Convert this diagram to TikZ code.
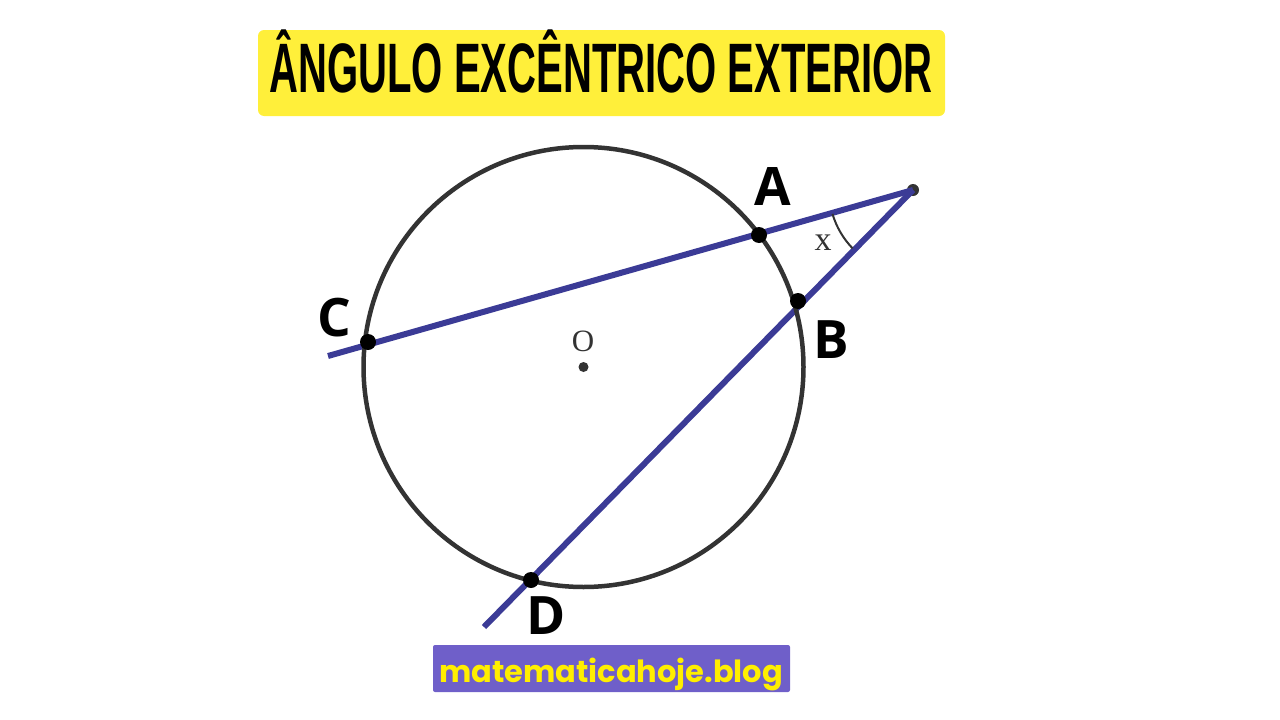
\documentclass[tikz,border=0pt]{standalone}
\usepackage{fontspec}
\setmainfont{Liberation Sans}
\newfontfamily\labelfont{Open Sans}
\newfontfamily\blogfont{Poppins}
\newfontfamily\markfont{Liberation Serif}
\definecolor{titleyellow}{HTML}{FFEF3A}
\definecolor{lineblue}{HTML}{3B3B96}
\definecolor{blogpurple}{HTML}{6F5FC9}
\definecolor{blogyellow}{HTML}{FFEE00}
\definecolor{circlegray}{HTML}{333333}
\tikzset{
  blueline/.style={draw=lineblue, line width=6pt},
  dot/.style={circle, fill=black, inner sep=0pt, minimum size=16pt},
  letter/.style={anchor=base, font=\labelfont\bfseries\fontsize{53}{53}\selectfont}
}
\begin{document}
\begin{tikzpicture}[x=1pt,y=-1pt]
\useasboundingbox (0,0) rectangle (1280,720);
\fill[titleyellow, rounded corners=6pt] (258,30) rectangle (945,116);
\node[anchor=base, inner sep=0pt] (title) at (601,92)
  {\scalebox{0.572}[1]{\bfseries\fontsize{70}{70}\selectfont ÂNGULO EXCÊNTRICO EXTERIOR}};
\coordinate (O) at (583.5,367);
\coordinate (Cend) at (328,356);
\coordinate (Dend) at (484,627);
\node[circle, fill=circlegray, inner sep=0pt, minimum size=12pt] (P) at (913,190) {};
\draw[blueline] (Cend)--(P.center);
\draw[blueline] (Dend)--(P.center);
\draw[draw=circlegray, line width=4.5pt] (O) circle[radius=220];
\draw[draw=circlegray, line width=2pt] (P.center) ++(163.5:84) arc[start angle=163.5, end angle=136, radius=84];
\node[dot] (A) at (759,235) {};
\node[dot] (B) at (798,301) {};
\node[dot] (C) at (368,342) {};
\node[dot] (D) at (531,580) {};
\node[circle, fill=circlegray, inner sep=0pt, minimum size=10pt] (Odot) at (O) {};
\node[text=circlegray, font=\markfont\fontsize{31}{31}\selectfont] (Olabel) at (583,341) {O};
\node[text=circlegray, font=\markfont\fontsize{34}{34}\selectfont] (xlabel) at (823,243) {x};
\node[letter] (Alabel) at (773,205) {A};
\node[letter] (Blabel) at (831,358) {B};
\node[letter] (Clabel) at (334,336) {C};
\node[letter] (Dlabel) at (546,634) {D};
\fill[blogpurple, rounded corners=2pt] (433,645) rectangle (790,692);
\node[anchor=base, text=blogyellow, font=\blogfont\bfseries\fontsize{30.5}{30.5}\selectfont] (blog) at (611,682) {matematicahoje.blog};
\end{tikzpicture}
\end{document}
